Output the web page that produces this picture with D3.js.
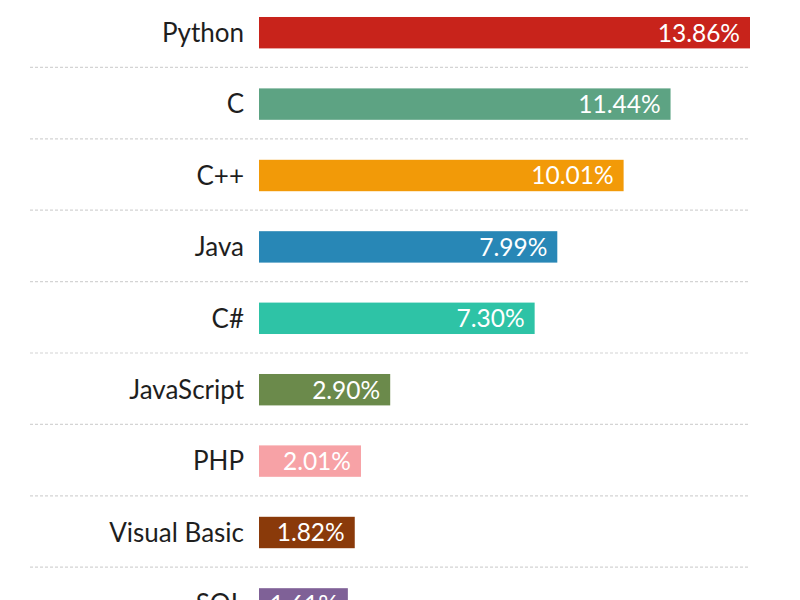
<!DOCTYPE html>
<html>
<head>
<meta charset="utf-8">
<script src="https://cdn.jsdelivr.net/npm/d3@7"></script>
<style>
  html, body { margin: 0; padding: 0; background: #fff; }
  svg { display: block; }
</style>
</head>
<body>
<div id="app"></div>
<script>
// 数据
const languages = ['Python', 'C', 'C++', 'Java', 'C#', 'JavaScript', 'PHP', 'Visual Basic', 'SQL'];
const shares = [13.86, 11.44, 10.01, 7.99, 7.30, 2.90, 2.01, 1.82, 1.61];
const colors = ['#c8231b', '#5da383', '#f29a08', '#2887b6', '#2ec3a6', '#6b8a4b', '#f7a2a6', '#8a3a0a', '#7f6197'];

const width = 800;
const height = 600;
const barLeft = 259;

let svg = d3.select('#app').append('svg')
    .attr('width', width)
    .attr('height', height);

// 比例尺
let xScale = d3.scaleLinear()
    .domain([0, d3.max(shares)])
    .range([barLeft + 36, 750]);

let yScale = d3.scaleBand()
    .domain(languages)
    .range([-3, -3 + 9 * 71.4])
    .paddingInner(0.56)
    .paddingOuter(0.28);

const bw = yScale.bandwidth();

// 分隔虚线
let seps = languages.slice(0, -1).map((d, i) => {
    return (yScale(d) + bw + yScale(languages[i + 1])) / 2 - 1;
});
svg.selectAll('line.sep')
    .data(seps)
    .enter()
    .append('line')
    .attr('class', 'sep')
    .attr('x1', 30)
    .attr('x2', 750)
    .attr('y1', d => d)
    .attr('y2', d => d)
    .attr('stroke', '#d4d4d4')
    .attr('stroke-width', 1.2)
    .attr('stroke-dasharray', '3,2');

// 柱子
svg.selectAll('rect.bar')
    .data(shares)
    .enter()
    .append('rect')
    .attr('class', 'bar')
    .attr('x', barLeft)
    .attr('y', (d, i) => yScale(languages[i]))
    .attr('width', d => xScale(d) - barLeft)
    .attr('height', bw)
    .attr('fill', (d, i) => colors[i]);

// 语言名称
svg.selectAll('text.name')
    .data(languages)
    .enter()
    .append('text')
    .attr('class', 'name')
    .attr('x', 244)
    .attr('y', d => yScale(d) + bw / 2)
    .attr('dy', '0.36em')
    .attr('text-anchor', 'end')
    .attr('font-family', 'Lato, "Noto Sans", sans-serif')
    .attr('font-size', 26)
    .attr('fill', '#1e1e1e')
    .text(d => d);

// 百分比
svg.selectAll('text.val')
    .data(shares)
    .enter()
    .append('text')
    .attr('class', 'val')
    .attr('x', d => xScale(d) - 10)
    .attr('y', (d, i) => yScale(languages[i]) + bw / 2)
    .attr('dy', '0.36em')
    .attr('text-anchor', 'end')
    .attr('font-family', 'Lato, "Noto Sans", sans-serif')
    .attr('font-size', 24.5)
    .attr('fill', '#fff')
    .text(d => d.toFixed(2) + '%');
</script>
</body>
</html>
